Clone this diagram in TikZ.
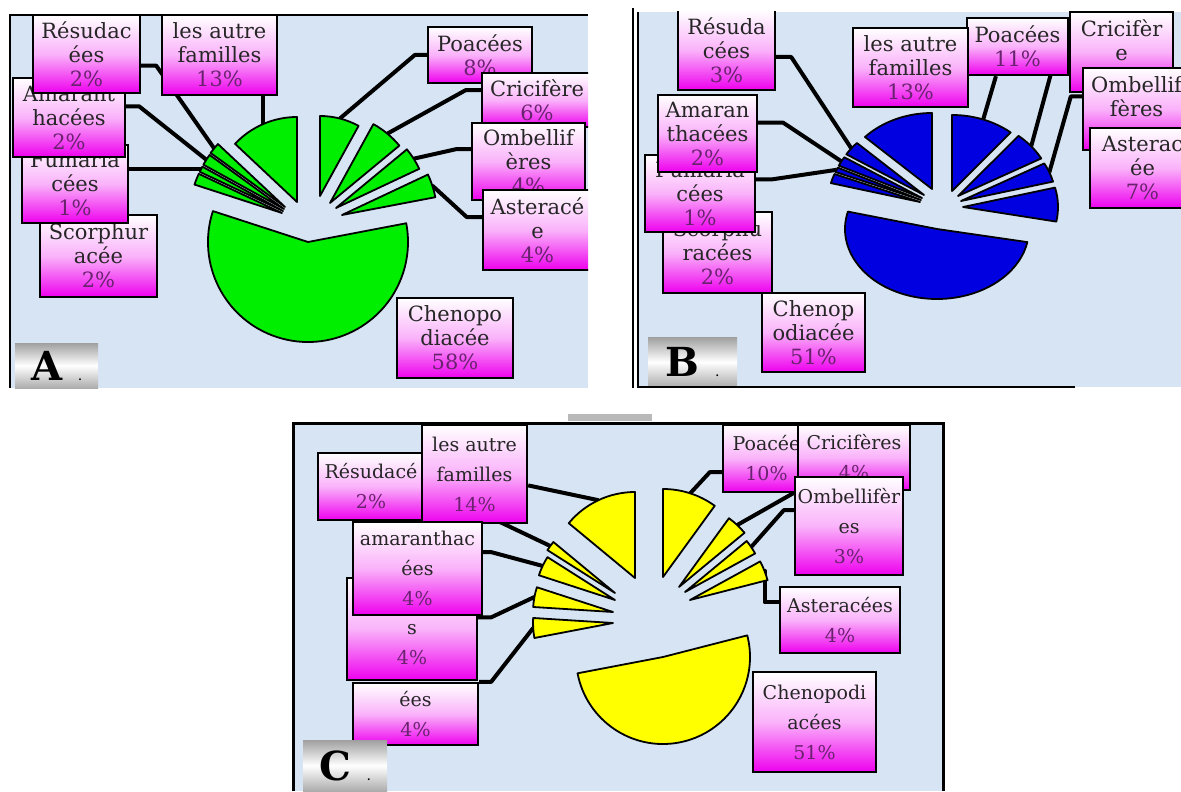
\documentclass[tikz,border=0pt]{standalone}
\usepackage{fontspec}
\setmainfont{DejaVu Serif}
\usetikzlibrary{calc}

\definecolor{panelblue}{RGB}{214,228,243}
\definecolor{boxpink}{RGB}{238,0,238}
\definecolor{pctpurple}{RGB}{105,35,110}
\definecolor{chartgreen}{RGB}{0,238,0}
\definecolor{chartblue}{RGB}{0,0,225}
\definecolor{chartyellow}{RGB}{255,255,0}

\pgfdeclarelayer{pies}
\pgfsetlayers{pies,main}

\newcommand{\pct}[1]{\textcolor{pctpurple}{#1}}

\tikzset{
  famlabel/.style={draw=black, line width=1.2pt, top color=white, bottom color=boxpink,
    middle color=boxpink!30, inner sep=0pt, align=center, text=black!85,
    font=\fontsize{10.5}{12}\selectfont},
  famlabelC/.style={famlabel, font=\fontsize{9.5}{15}\selectfont},
  leader/.style={line width=2pt, line join=round},
  wedge/.style={draw=black, line width=0.9pt, line join=round},
  letterbox/.style={inner sep=0pt, top color=gray!75, bottom color=gray!65, middle color=white,
    font=\fontsize{20}{20}\selectfont\bfseries},
  panel/.style={fill=panelblue}
}

\begin{document}
\begin{tikzpicture}[x=0.5pt,y=0.5pt]
\useasboundingbox (0,0) rectangle (1181,-791);
\begin{pgfonlayer}{pies}
\fill[white] (0,0) rectangle (1181,-791);
\fill[panel] (10,-15) rectangle (588,-388);
\fill[panel] (637,-12) rectangle (1181,-387);
\fill[panel] (293,-423) rectangle (943,-791);
\fill[gray!55] (568,-414) rectangle (652,-421);
\end{pgfonlayer}

% panel A
\begin{scope}
\clip (10,-15) rectangle (588,-388);
\node[famlabel, minimum width=58.5pt, minimum height=41pt] (AScor) at (98.5,-256) {Scorphur\\acée\\\pct{2\%}};
\node[famlabel, minimum width=53pt, minimum height=39pt] (AFum) at (75,-184) {Fumaria\\cées\\\pct{1\%}};
\node[famlabel, minimum width=56pt, minimum height=39.5pt] (AAma) at (69,-117.5) {Amarant\\hacées\\\pct{2\%}};
\node[famlabel, minimum width=53.5pt, minimum height=39pt] (ARes) at (86.5,-54) {Résudac\\ées\\\pct{2\%}};
\node[famlabel, minimum width=57.5pt, minimum height=40pt] (ALes) at (219.5,-55) {les autre\\familles\\\pct{13\%}};
\node[famlabel, minimum width=52pt, minimum height=28pt] (APoa) at (480,-55) {Poacées\\\pct{8\%}};
\node[famlabel, minimum width=55pt, minimum height=27pt] (ACri) at (537,-100) {Cricifère\\\pct{6\%}};
\node[famlabel, minimum width=56.5pt, minimum height=38.5pt] (AOmb) at (528.5,-161.5) {Ombellif\\ères\\\pct{4\%}};
\node[famlabel, minimum width=54.5pt, minimum height=40pt] (AAst) at (537.5,-230) {Asteracé\\e\\\pct{4\%}};
\node[famlabel, minimum width=58pt, minimum height=40pt] (ACheno) at (455,-338) {Chenopo\\diacée\\\pct{58\%}};
\node[letterbox, minimum width=41.5pt, minimum height=22.5pt] (Aletter) at (56.5,-365.5) {A\hspace{8pt}{\tiny .}};
\end{scope}
\begin{pgfonlayer}{pies}
\begin{scope}
\clip (10,-15) rectangle (588,-388);
\foreach \nm/\vx/\vy/\st/\en/\rx/\ry in {les/297/202/90/136.8/85/85, res/285/207/136.8/144/92/92,
    ama/284/209/144/151.2/92/92, fum/283/211/151.2/154.8/92/92, sco/282/213/154.8/162/92/92,
    che/308/242/162/370.8/100/100, ast/342/215/370.8/385.2/95/95, omb/336/208/25.2/39.6/92/92,
    cri/330/203/39.6/61.2/90/90, poa/320/196/61.2/90/80/80}
  \coordinate (sA\nm) at ($(\vx,-\vy)+({\rx*cos((\st+\en)/2)},{\ry*sin((\st+\en)/2)})$);
\draw[leader] (APoa.west) -- ++(-12,0) -- (sApoa);
\draw[leader] (ACri.170) -- ++(-15,0) -- (sAcri);
\draw[leader] (AOmb.168) -- ++(-15,0) -- (sAomb);
\draw[leader] (AAst.167) -- ++(-15,0) -- (sAast);
\draw[leader] (ALes.south -| sAles) -- (sAles);
\draw[leader] (ARes.348) -- ++(15,0) -- (sAres);
\draw[leader] (AAma.11) -- ++(13,0) -- (sAama);
\draw[leader] (sAfum -| AFum.east) -- (sAfum);
\foreach \nm/\vx/\vy/\st/\en/\rx/\ry in {les/297/202/90/136.8/85/85, res/285/207/136.8/144/92/92,
    ama/284/209/144/151.2/92/92, fum/283/211/151.2/154.8/92/92, sco/282/213/154.8/162/92/92,
    che/308/242/162/370.8/100/100, ast/342/215/370.8/385.2/95/95, omb/336/208/25.2/39.6/92/92,
    cri/330/203/39.6/61.2/90/90, poa/320/196/61.2/90/80/80}
  \draw[wedge, fill=chartgreen] (\vx,-\vy) -- ++({\rx*cos(\st)},{\ry*sin(\st)})
    arc[start angle=\st, end angle=\en, x radius=\rx, y radius=\ry] -- cycle;
\end{scope}
\end{pgfonlayer}
\draw[line width=1.2pt] (10,-388) -- (10,-15) -- (588,-15);

% panel B
\begin{scope}
\clip (637,-12) rectangle (1181,-387);
\node[famlabel, minimum width=54.5pt, minimum height=40.5pt] (BScor) at (717.5,-252.5) {Scorphu\\racées\\\pct{2\%}};
\node[famlabel, minimum width=55pt, minimum height=38.5pt] (BFum) at (700,-193.5) {Fumaria\\cées\\\pct{1\%}};
\node[famlabel, minimum width=49.5pt, minimum height=38.5pt] (BAma) at (707.5,-133.5) {Amaran\\thacées\\\pct{2\%}};
\node[famlabel, minimum width=48.5pt, minimum height=40pt] (BRes) at (726.5,-50) {Résuda\\cées\\\pct{3\%}};
\node[famlabel, minimum width=50.5pt, minimum height=28.5pt] (BPoa) at (1017.5,-46.5) {Poacées\\\pct{11\%}};
\node[famlabel, minimum width=57.5pt, minimum height=39.5pt] (BLes) at (910.5,-67.5) {les autre\\familles\\\pct{13\%}};
\node[famlabel, minimum width=51.5pt, minimum height=40pt] (BCri) at (1121.5,-52) {Cricifèr\\e\\\mbox{}};
\node[famlabel, minimum width=53.5pt, minimum height=41pt] (BOmb) at (1136.5,-109) {Ombellif\\fères\\\mbox{}};
\node[famlabel, minimum width=52.5pt, minimum height=40pt] (BAst) at (1142.5,-168) {Asterac\\ée\\\pct{7\%}};
\node[famlabel, minimum width=51.5pt, minimum height=39.5pt] (BCheno) at (813.5,-332.5) {Chenop\\odiacée\\\pct{51\%}};
\node[letterbox, minimum width=44.5pt, minimum height=25pt] (Bletter) at (692.5,-362) {B\hspace{8pt}{\tiny .}};
\end{scope}
\begin{pgfonlayer}{pies}
\begin{scope}
\clip (637,-12) rectangle (1181,-387);
\foreach \nm/\vx/\vy/\st/\en/\rx/\ry in {les/932/189/90/136.8/92/76, res/924/195/136.8/147.6/92/76,
    ama/922/198/147.6/154.8/92/76, fum/921/200/154.8/158.4/92/76, sco/920/202/158.4/165.6/92/76,
    che/937/229/165.6/349.2/92/70, ast/963/207/349.2/374.4/95/78, omb/961/201/14.4/28.8/95/78,
    cri/958/196/28.8/50.4/95/78, poa/952/191/50.4/90/92/76}
  \coordinate (sB\nm) at ($(\vx,-\vy)+({\rx*cos((\st+\en)/2)},{\ry*sin((\st+\en)/2)})$);
\draw[leader] (BRes.352) -- ++(15,0) -- (sBres);
\draw[leader] (BAma.12) -- ++(25,0) -- (sBama);
\draw[leader] (BFum.14) -- ++(15,0) -- (sBfum);
\draw[leader] (BPoa.234) -- (sBpoa);
\draw[leader] (BCri.west) -- ++(-12,0) -- (sBcri);
\draw[leader] (BOmb.167) -- ++(-11,0) -- (sBomb);
\foreach \nm/\vx/\vy/\st/\en/\rx/\ry in {les/932/189/90/136.8/92/76, res/924/195/136.8/147.6/92/76,
    ama/922/198/147.6/154.8/92/76, fum/921/200/154.8/158.4/92/76, sco/920/202/158.4/165.6/92/76,
    che/937/229/165.6/349.2/92/70, ast/963/207/349.2/374.4/95/78, omb/961/201/14.4/28.8/95/78,
    cri/958/196/28.8/50.4/95/78, poa/952/191/50.4/90/92/76}
  \draw[wedge, fill=chartblue] (\vx,-\vy) -- ++({\rx*cos(\st)},{\ry*sin(\st)})
    arc[start angle=\st, end angle=\en, x radius=\rx, y radius=\ry] -- cycle;
\end{scope}
\end{pgfonlayer}
\draw[line width=0.8pt] (633,-8) -- (633,-388);
\draw[line width=0.8pt] (638,-12) -- (638,-387) -- (1075,-387);

% panel C
\begin{scope}
\clip (293,-423) rectangle (943,-791);
\node[famlabelC, minimum width=53pt, minimum height=33.5pt] (CRes) at (371,-486.5) {Résudacé\\\pct{2\%}};
\node[famlabelC, minimum width=52.5pt, minimum height=49pt] (CLes) at (474.5,-474) {les autre\\familles\\\pct{14\%}};
\node[famlabelC, minimum width=65pt, minimum height=51pt] (Cs) at (412,-629) {\mbox{}\\[6pt]s\\\pct{4\%}};
\node[famlabelC, minimum width=62.5pt, minimum height=31pt] (Cees) at (415.5,-714) {ées\\\pct{4\%}};
\node[famlabelC, minimum width=64.5pt, minimum height=46.5pt] (Cama) at (417.5,-568.5) {amaranthac\\ées\\\pct{4\%}};
\node[famlabelC, minimum width=43.5pt, minimum height=33.5pt] (CPoa) at (766.5,-458.5) {Poacée\\\pct{10\%}};
\node[famlabelC, minimum width=56pt, minimum height=32.5pt] (CCri) at (854,-457.5) {Cricifères\\\pct{4\%}};
\node[famlabelC, minimum width=54pt, minimum height=49pt] (COmb) at (849,-526) {Ombellifèr\\es\\\pct{3\%}};
\node[famlabelC, minimum width=60pt, minimum height=33pt] (CAst) at (840,-620) {Asteracées\\\pct{4\%}};
\node[famlabelC, minimum width=61.5pt, minimum height=50pt] (CCheno) at (814.5,-722) {Chenopodi\\acées\\\pct{51\%}};
\node[letterbox, minimum width=42pt, minimum height=25.5pt] (Cletter) at (345,-765.5) {C\hspace{8pt}{\tiny .}};
\end{scope}
\begin{pgfonlayer}{pies}
\begin{scope}
\clip (293,-423) rectangle (943,-791);
\foreach \nm/\vx/\vy/\st/\en/\rx/\ry in {les/635/578/90/140.4/86/86, res/615/593/140.4/147.6/80/80,
    ama/615/600/147.6/162/80/80, s/613/612/162/176.4/80/80, ees/613/623/176.4/190.8/80/80,
    che/663/657/190.8/374.4/87/87, ast/690/600/14.4/28.8/80/80, omb/685/592/28.8/39.6/80/80,
    cri/679/587/39.6/54/85/85, poa/663/577/54/90/88/88}
  \coordinate (sC\nm) at ($(\vx,-\vy)+({\rx*cos((\st+\en)/2)},{\ry*sin((\st+\en)/2)})$);
\draw[leader] (CLes.348) -- (sCles);
\draw[leader] (CRes.east) -- (sCres);
\draw[leader] (Cama.14) -- ++(8,0) -- (sCama);
\draw[leader] (Cs.10) -- ++(13,0) -- (sCs);
\draw[leader] (Cees.north east) -- ++(12,0) -- (sCees);
\draw[leader] (CPoa.197) -- ++(-12,0) -- (sCpoa);
\draw[leader] (CCri.south west) -- (sCcri);
\draw[leader] (COmb.164) -- ++(-10,0) -- (sComb);
\draw[leader] (CAst.164) -- ++(-14,0) |- (sCast);
\foreach \nm/\vx/\vy/\st/\en/\rx/\ry in {les/635/578/90/140.4/86/86, res/615/593/140.4/147.6/80/80,
    ama/615/600/147.6/162/80/80, s/613/612/162/176.4/80/80, ees/613/623/176.4/190.8/80/80,
    che/663/657/190.8/374.4/87/87, ast/690/600/14.4/28.8/80/80, omb/685/592/28.8/39.6/80/80,
    cri/679/587/39.6/54/85/85, poa/663/577/54/90/88/88}
  \draw[wedge, fill=chartyellow] (\vx,-\vy) -- ++({\rx*cos(\st)},{\ry*sin(\st)})
    arc[start angle=\st, end angle=\en, x radius=\rx, y radius=\ry] -- cycle;
\end{scope}
\end{pgfonlayer}
\draw[line width=1.5pt] (293,-791) -- (293,-423) -- (943,-423) -- (943,-791);
\end{tikzpicture}
\end{document}
